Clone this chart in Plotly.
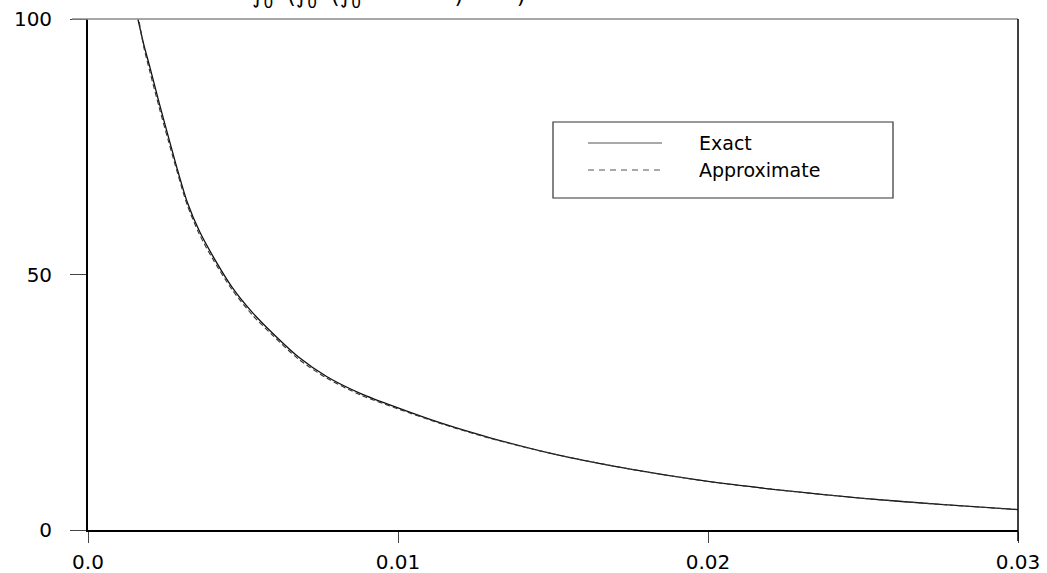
import plotly.graph_objects as go

# Curve samples: x position and y value for each series
x_vals = [0.00161, 0.0018, 0.0020, 0.0023, 0.0026, 0.0029, 0.0032, 0.0036, 0.0040,
          0.00465, 0.0053, 0.00594, 0.0068, 0.00771, 0.0088, 0.0100, 0.0115,
          0.0130, 0.0150, 0.0175, 0.0200, 0.0225, 0.0250, 0.0275, 0.0300]
exact_vals = [100.0, 95.0, 90.5, 83.5, 76.8, 70.2, 64.2, 58.4, 53.9,
              47.5, 42.6, 38.6, 33.8, 30.0, 26.7, 23.9, 20.7,
              18.0, 14.9, 11.9, 9.5, 7.7, 6.2, 5.0, 4.0]
approx_vals = [101.0, 94.5, 89.6, 82.6, 76.0, 69.6, 63.6, 57.8, 53.3,
               47.0, 42.1, 38.2, 33.4, 29.7, 26.4, 23.7, 20.6,
               17.9, 14.9, 11.9, 9.5, 7.7, 6.2, 5.0, 4.0]

x_ticks = [0.0, 0.01, 0.02, 0.03]
x_tick_text = ["0.0", "0.01", "0.02", "0.03"]
y_ticks = [0, 50, 100]
legend_names = ["Exact", "Approximate"]

FONT = "DejaVu Sans, Liberation Sans, Arial, sans-serif"
TICK_FONT = dict(family=FONT, size=20, color="black")

fig = go.Figure()
fig.add_trace(go.Scatter(x=x_vals, y=exact_vals, mode="lines", name=legend_names[0],
                         line=dict(color="#111111", width=1.3, shape="spline",
                                   smoothing=0.8),
                         showlegend=False))
fig.add_trace(go.Scatter(x=x_vals, y=approx_vals, mode="lines", name=legend_names[1],
                         line=dict(color="#333333", width=1.1, dash="5px,3px",
                                   shape="spline", smoothing=0.8),
                         showlegend=False))

fig.update_layout(
    width=1047, height=573,
    margin=dict(l=88, r=29, t=19, b=43),
    plot_bgcolor="white", paper_bgcolor="white",
    font=dict(family=FONT, size=18, color="black"),
    xaxis=dict(range=[0, 0.03], tickvals=x_ticks, ticktext=x_tick_text,
               tickfont=TICK_FONT, ticklabelstandoff=2, automargin=False,
               showgrid=False, zeroline=False, showline=True, linecolor="black",
               linewidth=1.5, ticks="outside", ticklen=11, tickcolor="#444444",
               tickwidth=1.2),
    yaxis=dict(range=[0, 100], tickvals=y_ticks, tickfont=TICK_FONT,
               ticklabelstandoff=14, automargin=False, showgrid=False,
               zeroline=False, showline=True, linecolor="black", linewidth=1.8,
               ticks="outside", ticklen=16, tickcolor="#444444", tickwidth=1.2),
)

# Frame: grey top edge running over the 100 tick, black right edge
fig.add_shape(type="line", xref="paper", yref="paper", x0=-16 / 930, x1=1, y0=1, y1=1,
              line=dict(color="#8a8a8a", width=1.5))
fig.add_shape(type="line", xref="paper", yref="paper", x0=1, x1=1, y0=-11 / 511, y1=1,
              line=dict(color="black", width=1.5))

# Legend box
fig.add_shape(type="rect", xref="paper", yref="paper",
              x0=(553 - 88) / 930, x1=(893 - 88) / 930,
              y0=(530 - 198) / 511, y1=(530 - 122) / 511,
              line=dict(color="#333333", width=1.2), fillcolor="white")
fig.add_shape(type="line", xref="paper", yref="paper",
              x0=(588 - 88) / 930, x1=(662 - 88) / 930,
              y0=(530 - 143) / 511, y1=(530 - 143) / 511,
              line=dict(color="#555555", width=1.2))
fig.add_shape(type="line", xref="paper", yref="paper",
              x0=(588 - 88) / 930, x1=(662 - 88) / 930,
              y0=(530 - 170) / 511, y1=(530 - 170) / 511,
              line=dict(color="#555555", width=1.2, dash="6px,5px"))
for name, ypix in zip(legend_names, [143, 170]):
    fig.add_annotation(xref="paper", yref="paper", x=(697 - 88) / 930,
                       y=(530 - ypix) / 511, text=name, showarrow=False,
                       xanchor="left", yanchor="middle",
                       font=dict(family=FONT, size=19, color="black"))

# Formula heading, running past the top of the page
fig.add_annotation(xref="paper", yref="paper", x=(250 - 88) / 930, y=(530 - 14) / 511,
                   text="∫<sub>0</sub>  (∫<sub>0</sub>  (∫<sub>0</sub> ────── ) ─── )",
                   showarrow=False, xanchor="left", yanchor="bottom",
                   font=dict(family=FONT, size=22, color="black"))

fig.write_html("out.html")
